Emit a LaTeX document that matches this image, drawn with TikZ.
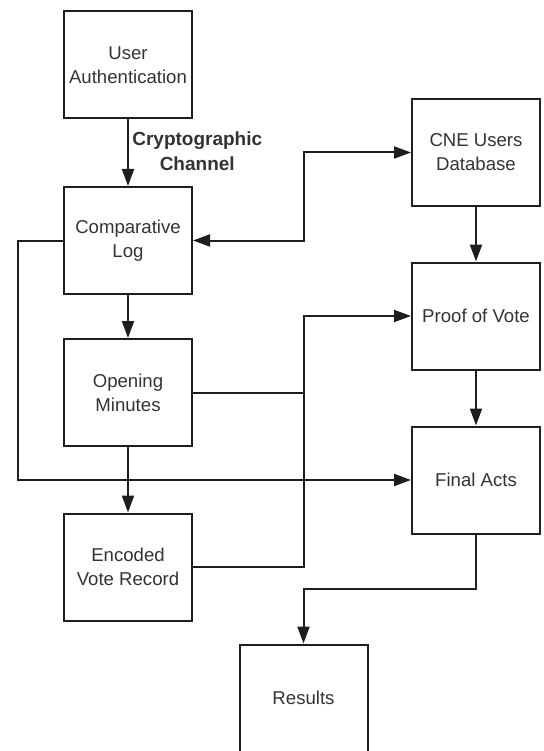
\documentclass[tikz,border=0pt]{standalone}
\usepackage{fontspec}
\setmainfont{Liberation Sans}
\usetikzlibrary{arrows.meta}
\definecolor{txt}{HTML}{333333}
\definecolor{ln}{HTML}{1E1E1E}
\begin{document}
\begin{tikzpicture}[x=1pt,y=-1pt,
  box/.style={draw=ln, line width=2pt, minimum width=128pt, minimum height=107pt, inner sep=0pt,
    align=center, text=txt, font=\fontsize{18.6}{24}\selectfont},
  tip/.tip={Triangle[length=17pt,width=12pt]},
  arr/.style={draw=ln, line width=2pt, -tip},
  ln/.style={draw=ln, line width=2pt}]
\useasboundingbox (0,0) rectangle (543,751);
\node[box] (ua)  at (128,65)    {User\\Authentication};
\node[box] (cl)  at (128,240.5) {Comparative\\Log};
\node[box] (om)  at (128,392.5) {Opening\\Minutes};
\node[box] (ev)  at (128,567)   {Encoded\\Vote Record};
\node[box] (cne) at (476,152.5) {CNE Users\\Database};
\node[box] (pov) at (476,316)   {Proof of Vote};
\node[box] (fa)  at (476,480)   {Final Acts};
\node[box] (res) at (303.5,698) {Results};
\coordinate (jx) at (304,0);
\coordinate (b1) at (18,480);
\coordinate (j2) at (304,316);
\coordinate (j3) at (303.5,589);
% UA -> CL
\draw[arr] (ua.south) -- (cl.north)
  node[pos=0.47, anchor=west, xshift=0pt, align=center, text=txt,
       font=\fontsize{19}{25}\selectfont\bfseries] (lab) {Cryptographic\\Channel};
% CL <-> CNE
\draw[arr, tip-tip] (cl.east) -- (jx |- cl.east) |- (cne.west);
% CL -> OM
\draw[arr] (cl.south) -- (om.north);
% CL -> FA (around left)
\draw[arr] (cl.west) -| (b1) -- (fa.west);
% OM -> EV
\draw[arr] (om.south) -- (ev.north);
% OM / EV -> PoV
\draw[ln] (om.east) -- (jx |- om.east);
\draw[arr] (ev.east) -| (j2) -- (pov.west);
% CNE -> PoV -> FA
\draw[arr] (cne.south) -- (pov.north);
\draw[arr] (pov.south) -- (fa.north);
% FA -> Results
\draw[arr] (fa.south) |- (j3) -- (res.north);
\end{tikzpicture}
\end{document}
